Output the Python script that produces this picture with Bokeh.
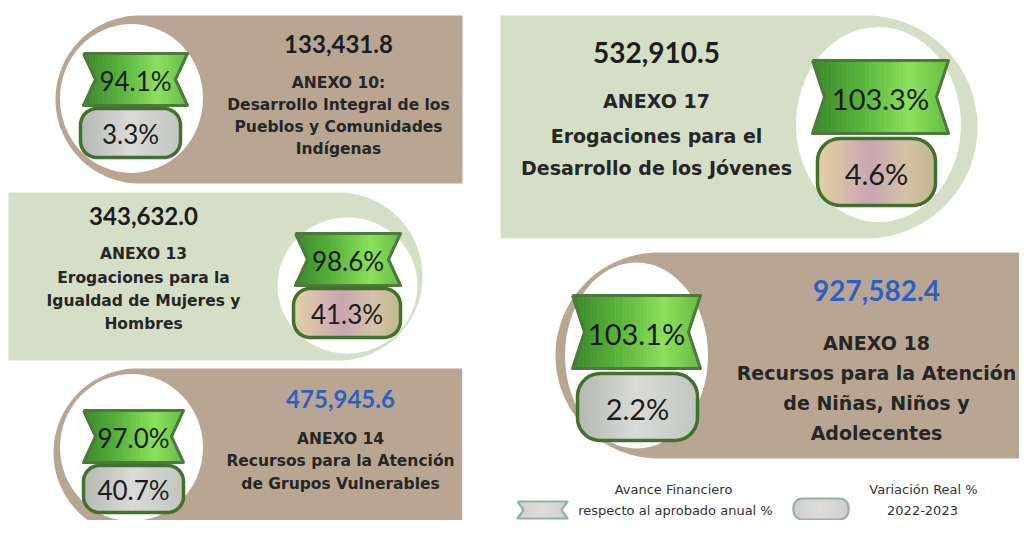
import numpy as np
from bokeh.plotting import figure
from bokeh.models import Range1d
from bokeh.embed import file_html
from bokeh.resources import INLINE
from bokeh.core.properties import value

# ---------------- data ----------------
amounts = ["133,431.8", "343,632.0", "475,945.6", "532,910.5", "927,582.4"]
annex_titles = ["ANEXO 10:", "ANEXO 13", "ANEXO 14", "ANEXO 17", "ANEXO 18"]
annex_lines = [
    ["Desarrollo Integral de los", "Pueblos y Comunidades", "Indígenas"],
    ["Erogaciones para la", "Igualdad de Mujeres y", "Hombres"],
    ["Recursos para la Atención", "de Grupos Vulnerables"],
    ["Erogaciones para el", "Desarrollo de los Jóvenes"],
    ["Recursos para la Atención", "de Niñas, Niños y", "Adolecentes"],
]
avance = [94.1, 98.6, 97.0, 103.3, 103.1]      # Avance financiero respecto al aprobado anual %
variacion = [3.3, 41.3, 40.7, 4.6, 2.2]         # Variación real % 2022-2023
legend_labels = [["Avance Financiero", "respecto al aprobado anual %"],
                 ["Variación Real %", "2022-2023"]]

# ---------------- styles / layout ----------------
TAN = "#b9a692"
SAGE = "#d5dec7"
BLUE = "#2e5fc0"
DARK = "#1c1c1c"
GREEN_GRAD = [(0.0, "#3a872a"), (0.35, "#58b23b"), (0.72, "#8be05b"), (1.0, "#66bb44")]
GRAY_GRAD = [(0.0, "#b3b8b1"), (0.5, "#dadbd9"), (1.0, "#c1c5bf")]
PINK_GRAD = [(0.0, "#e2d3a2"), (0.45, "#c9a5b4"), (0.75, "#d3c2a6"), (1.0, "#c3b78e")]
LEG_RIB_GRAD = [(0.0, "#cfd3cf"), (0.5, "#e2dadc"), (1.0, "#cfd3cf")]
LEG_PILL_GRAD = [(0.0, "#cdd0cd"), (0.5, "#e0dcdc"), (1.0, "#cdd0cd")]

layout = [
    dict(fill=TAN, cap="left", box=(55, 462, 15, 183), circle=(131, 98, 143, 149),
         ribbon=(83, 187, 53, 105), pill=(80, 180, 108, 157), pill_grad=GRAY_GRAD,
         tx=338, num_y=43, title_y=82, line_y0=104, line_dy=22,
         num_size="24px", line_size="15.5px", badge_size="26px", num_color=DARK),
    dict(fill=SAGE, cap="right", box=(8, 422, 192, 360), circle=(347, 285, 140, 136),
         ribbon=(295, 400, 233, 285), pill=(293, 400, 288, 337), pill_grad=PINK_GRAD,
         tx=143, num_y=215, title_y=253, line_y0=277, line_dy=23,
         num_size="24px", line_size="15.5px", badge_size="26px", num_color=DARK),
    dict(fill=TAN, cap="left", box=(53, 462, 368, 536), circle=(131, 447, 143, 147),
         ribbon=(83, 183, 410, 462), pill=(83, 183, 465, 512), pill_grad=GRAY_GRAD,
         tx=340, num_y=398, title_y=438, line_y0=460, line_dy=23,
         num_size="24px", line_size="15.5px", badge_size="26px", num_color=BLUE),
    dict(fill=SAGE, cap="right", box=(500, 977, 15, 238), circle=(878, 124, 165, 195),
         ribbon=(812, 948, 60, 133), pill=(817, 935, 138, 205), pill_grad=PINK_GRAD,
         tx=656, num_y=52, title_y=100, line_y0=135, line_dy=32,
         num_size="28px", line_size="19px", badge_size="29px", num_color=DARK),
    dict(fill=TAN, cap="left", box=(555, 1045, 252, 458), circle=(636, 355, 143, 186),
         ribbon=(572, 700, 295, 368), pill=(577, 697, 373, 440), pill_grad=GRAY_GRAD,
         tx=876, num_y=290, title_y=342, line_y0=372, line_dy=30,
         num_size="28px", line_size="19px", badge_size="29px", num_color=BLUE),
]

# ---------------- geometry helpers ----------------
def panel_poly(x0, x1, y0, y1, cap):
    R = (y1 - y0) / 2.0
    cy = (y0 + y1) / 2.0
    if cap == "left":
        cx = x0 + R
        a = np.linspace(np.pi / 2, 3 * np.pi / 2, 80)
        xs = [x1, x1] + list(cx + R * np.cos(a))
        ys = [y0, y1] + list(cy + R * np.sin(a))
    else:
        cx = x1 - R
        a = np.linspace(-np.pi / 2, np.pi / 2, 80)
        xs = [x0, x0] + list(cx + R * np.cos(a))
        ys = [y1, y0] + list(cy + R * np.sin(a))
    return xs, ys


def ribbon_halves(x0, x1, y0, y1, d):
    """Ribbon with V notches at both ends, as outline + two convex halves."""
    cy = (y0 + y1) / 2.0
    full = [(x0, y0), (x1, y0), (x1 - d, cy), (x1, y1), (x0, y1), (x0 + d, cy)]
    top = [(x0, y0), (x1, y0), (x1 - d, cy), (x0 + d, cy)]
    bot = [(x0 + d, cy), (x1 - d, cy), (x1, y1), (x0, y1)]
    return full, [top, bot]


def rrect_poly(x0, x1, y0, y1, r, n=14):
    pts = []
    for (cx, cy, a0, a1) in [(x1 - r, y0 + r, -np.pi / 2, 0), (x1 - r, y1 - r, 0, np.pi / 2),
                             (x0 + r, y1 - r, np.pi / 2, np.pi), (x0 + r, y0 + r, np.pi, 1.5 * np.pi)]:
        for a in np.linspace(a0, a1, n):
            pts.append((cx + r * np.cos(a), cy + r * np.sin(a)))
    return pts


def clip_x(poly, xc, keep_greater):
    out = []
    n = len(poly)
    for i in range(n):
        cur, prev = poly[i], poly[i - 1]
        cin = cur[0] >= xc if keep_greater else cur[0] <= xc
        pin = prev[0] >= xc if keep_greater else prev[0] <= xc
        if cin != pin:
            t = (xc - prev[0]) / (cur[0] - prev[0])
            out.append((xc, prev[1] + t * (cur[1] - prev[1])))
        if cin:
            out.append(cur)
    return out


def grad_color(stops, t):
    for (t0, c0), (t1, c1) in zip(stops[:-1], stops[1:]):
        if t <= t1:
            f = 0 if t1 == t0 else (t - t0) / (t1 - t0)
            a = [int(c0[k:k + 2], 16) for k in (1, 3, 5)]
            b = [int(c1[k:k + 2], 16) for k in (1, 3, 5)]
            return "#%02x%02x%02x" % tuple(int(round(a[i] + f * (b[i] - a[i]))) for i in range(3))
    return stops[-1][1]


def gradient_fill(p, convex_polys, stops, nstrips=36):
    xs_all = [q[0] for poly in convex_polys for q in poly]
    xmin, xmax = min(xs_all), max(xs_all)
    edges = np.linspace(xmin, xmax, nstrips + 1)
    pxs, pys, cols = [], [], []
    for poly in convex_polys:
        for i in range(nstrips):
            piece = clip_x(clip_x(poly, edges[i], True), edges[i + 1], False)
            if len(piece) < 3:
                continue
            pxs.append([q[0] for q in piece])
            pys.append([q[1] for q in piece])
            cols.append(grad_color(stops, (i + 0.5) / nstrips))
    p.patches(pxs, pys, fill_color=cols, line_color=cols, line_width=0.8)


def outline(p, poly, color, width):
    xs = [q[0] for q in poly] + [poly[0][0]]
    ys = [q[1] for q in poly] + [poly[0][1]]
    p.line(xs, ys, line_color=color, line_width=width, line_join="round")


# ---------------- figure ----------------
W, H = 1019, 520
p = figure(width=W, height=H, x_range=Range1d(0, W), y_range=Range1d(H, 0),
           output_backend="svg", toolbar_location=None, min_border=0,
           x_axis_location=None, y_axis_location=None)
p.grid.visible = False
p.outline_line_color = None
p.background_fill_color = "white"
p.border_fill_color = "white"

LATO = value("Lato")
DJV = value("DejaVu Sans")

for i, L in enumerate(layout):
    x0, x1, y0, y1 = L["box"]
    xs, ys = panel_poly(x0, x1, y0, y1, L["cap"])
    p.patch(xs, ys, fill_color=L["fill"], line_color=None)
    cx, cy, cw, ch = L["circle"]
    p.ellipse(x=[cx], y=[cy], width=[cw], height=[ch], fill_color="white", line_color=None)

    # ribbon (avance financiero)
    rx0, rx1, ry0, ry1 = L["ribbon"]
    rib, rib_parts = ribbon_halves(rx0, rx1, ry0, ry1, 12)
    gradient_fill(p, rib_parts, GREEN_GRAD)
    outline(p, rib, "#4b7a3a", 3)
    # pill (variación real)
    qx0, qx1, qy0, qy1 = L["pill"]
    pill = rrect_poly(qx0, qx1, qy0, qy1, 0.34 * (qy1 - qy0))
    gradient_fill(p, [pill], L["pill_grad"])
    outline(p, pill, "#42702f", 3.5)

    p.text(x=[(rx0 + rx1) / 2], y=[(ry0 + ry1) / 2 + 1], text=["%.1f%%" % avance[i]],
           text_font=LATO, text_font_size=value(L["badge_size"]), text_color=DARK,
           text_align="center", text_baseline="middle")
    p.text(x=[(qx0 + qx1) / 2], y=[(qy0 + qy1) / 2 + 1], text=["%.1f%%" % variacion[i]],
           text_font=LATO, text_font_size=value(L["badge_size"]), text_color=DARK,
           text_align="center", text_baseline="middle")

    # amounts and annex description
    p.text(x=[L["tx"]], y=[L["num_y"]], text=[amounts[i]], text_font=LATO,
           text_font_size=value(L["num_size"]), text_font_style="bold",
           text_color=L["num_color"], text_align="center", text_baseline="middle")
    lines = [annex_titles[i]] + annex_lines[i]
    ly = [L["title_y"]] + [L["line_y0"] + k * L["line_dy"] for k in range(len(annex_lines[i]))]
    p.text(x=[L["tx"]] * len(lines), y=ly, text=lines, text_font=DJV,
           text_font_size=value(L["line_size"]), text_font_style="bold",
           text_color="#262626", text_align="center", text_baseline="middle")
    if i == 2:
        # the panel cuts its own text at its right edge
        p.quad(left=[462], right=[499], top=[364], bottom=[530], fill_color="white", line_color=None)

# ---------------- legend ----------------
leg_rib, leg_rib_parts = ribbon_halves(517, 567, 501, 518, 6)
gradient_fill(p, leg_rib_parts, LEG_RIB_GRAD, 16)
outline(p, leg_rib, "#8fb2a2", 2.2)
leg_pill = rrect_poly(793, 848, 498, 519, 9)
gradient_fill(p, [leg_pill], LEG_PILL_GRAD, 16)
outline(p, leg_pill, "#93b1a4", 2.2)

p.text(x=[673, 675], y=[489, 510], text=legend_labels[0], text_font=DJV,
       text_font_size=value("13px"), text_color="#333333", text_align="center", text_baseline="middle")
p.text(x=[923, 922], y=[489, 510], text=legend_labels[1], text_font=DJV,
       text_font_size=value("13px"), text_color="#333333", text_align="center", text_baseline="middle")

open("out.html", "w").write(file_html(p, INLINE))
